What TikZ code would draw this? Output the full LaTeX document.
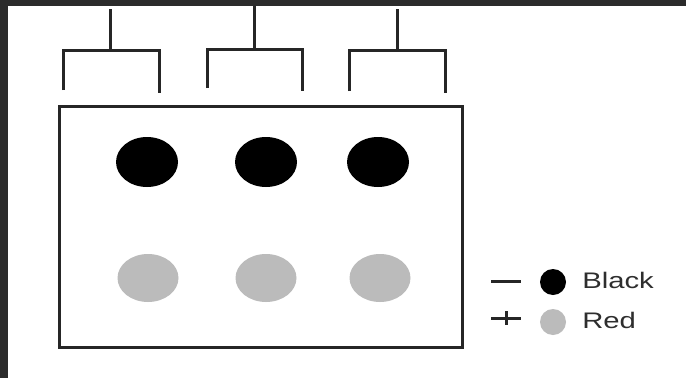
\documentclass[tikz,border=0pt]{standalone}
\usepackage{fontspec}
\setmainfont{Liberation Sans}
\usetikzlibrary{shapes.geometric}
\definecolor{spotgray}{HTML}{BBBBBB}
\definecolor{frame}{HTML}{2B2B2B}
\definecolor{txt}{HTML}{2E2E2E}
\begin{document}
\begin{tikzpicture}[x=1pt,y=-1pt,
  line/.style={line width=3pt,color=black!85},
  bigblack/.style={ellipse,fill=black,minimum width=62pt,minimum height=50pt,inner sep=0pt},
  biggray/.style={ellipse,fill=spotgray,minimum width=61pt,minimum height=48pt,inner sep=0pt},
  legdot/.style={circle,minimum size=26pt,inner sep=0pt},
  legtext/.style={anchor=base west,inner sep=0pt,text=txt,font=\fontsize{22.5}{25}\selectfont,xscale=1.3}
]
\useasboundingbox (0,0) rectangle (686,378);
\fill[white] (0,0) rectangle (686,378);
\fill[frame] (0,0) rectangle (686,6);
\fill[frame] (0,0) rectangle (8,378);
% plate
\node[draw=black!85,line width=3pt,minimum width=403pt,minimum height=241pt,inner sep=0pt] (plate) at (260.5,226.5) {};
% brackets
\foreach \i/\l/\r/\s/\top/\h/\lb/\rb in {1/63/159/110/9/50/90/93,2/207/302/254/6/49/88/91,3/349/445/397/9/50/91/93}{
  \coordinate (s\i) at (\s,\top);
  \coordinate (j\i) at (\s,\h);
  \coordinate (l\i) at (\l,\lb);
  \coordinate (r\i) at (\r,\rb);
  \draw[line] (s\i) -- (j\i);
  \draw[line] (l\i) |- (j\i) -| (r\i);
}
% spots
\node[bigblack] (b1) at (147,162) {};
\node[bigblack] (b2) at (266,162) {};
\node[bigblack] (b3) at (378,162) {};
\node[biggray] (g1) at (148,278) {};
\node[biggray] (g2) at (266,278) {};
\node[biggray] (g3) at (380,278) {};
% legend
\coordinate (m1) at (491,281); \coordinate (m2) at (521,281);
\draw[line] (m1) -- (m2);
\coordinate (p1) at (491,318); \coordinate (p2) at (521,318);
\coordinate (p3) at (506,311); \coordinate (p4) at (506,325);
\draw[line] (p1) -- (p2);
\draw[line] (p3) -- (p4);
\node[legdot,fill=black] (lb) at (553,282) {};
\node[legdot,fill=spotgray] (lg) at (553,322) {};
\node[legtext] (tb) at (582,288) {Black};
\node[legtext] (tr) at (582,328) {Red};
\end{tikzpicture}
\end{document}
